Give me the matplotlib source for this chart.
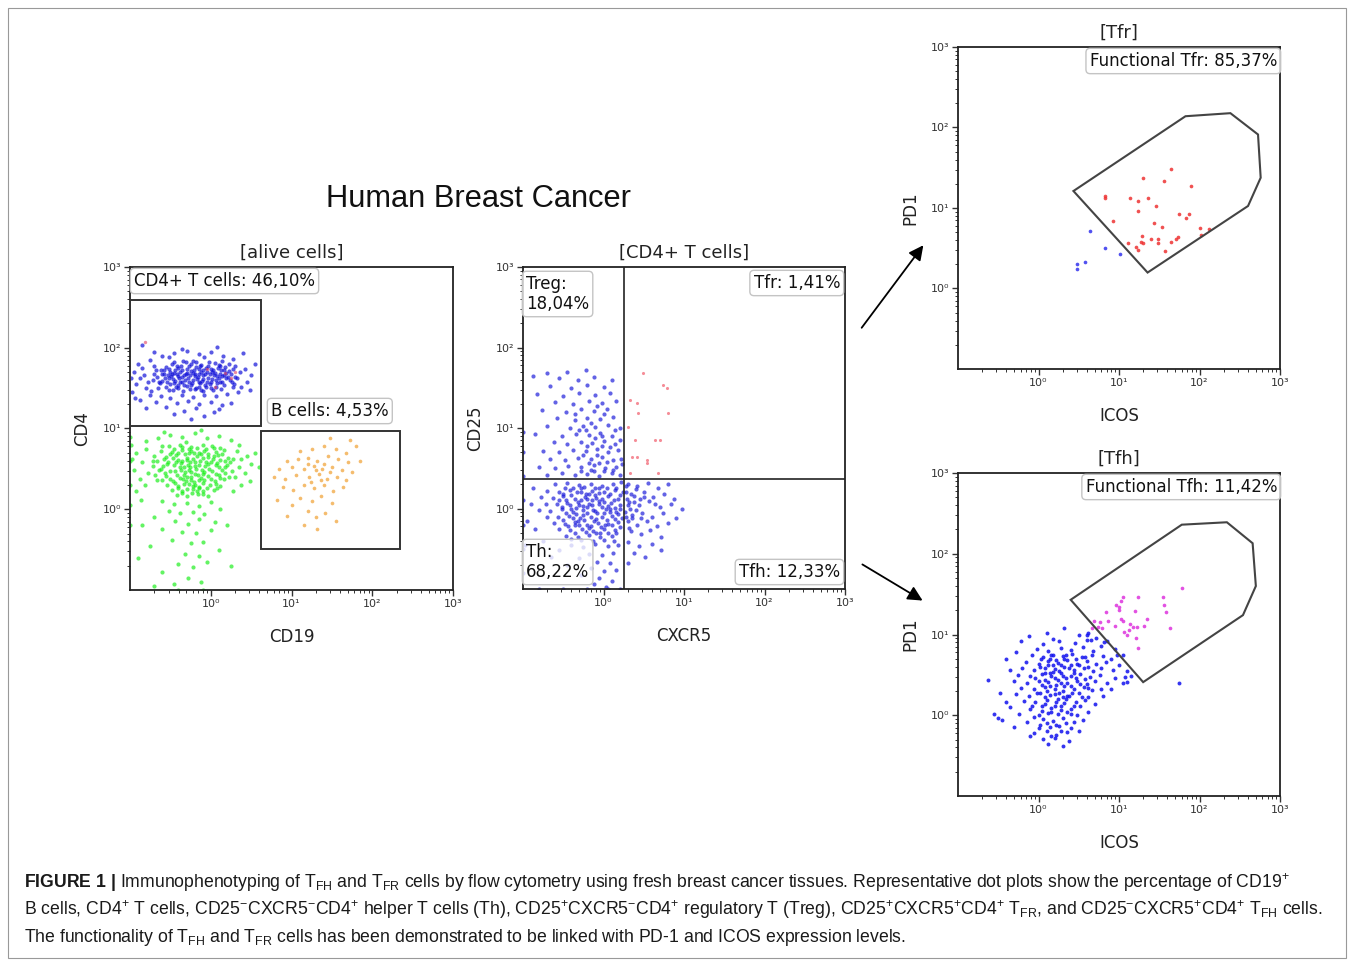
import numpy as np
import matplotlib
matplotlib.use("Agg")
import matplotlib.pyplot as plt
from matplotlib.patches import Rectangle, Polygon, FancyArrowPatch
from matplotlib.ticker import LogLocator, NullFormatter, FixedLocator, FixedFormatter

# ---- data (log10 values) ----
alive_cd4_log = """
-0.48 1.80 -0.31 1.82 -0.12 1.79 0.05 1.81 -0.22 1.84 0.12 1.78
-0.55 1.76 -0.40 1.75 -0.27 1.77 -0.15 1.74 -0.03 1.77 0.09 1.75 0.18 1.76
-0.62 1.72 -0.50 1.70 -0.36 1.73 -0.24 1.71 -0.10 1.72 0.01 1.70 0.13 1.73 0.22 1.71
-0.70 1.68 -0.58 1.67 -0.45 1.69 -0.33 1.66 -0.19 1.68 -0.07 1.67 0.05 1.69 0.16 1.66 0.25 1.68
-0.66 1.64 -0.52 1.63 -0.41 1.65 -0.28 1.62 -0.16 1.64 -0.04 1.63 0.08 1.65 0.19 1.62
-0.72 1.60 -0.60 1.59 -0.47 1.61 -0.35 1.58 -0.22 1.60 -0.11 1.59 0.02 1.61 0.14 1.58 0.24 1.60
-0.63 1.56 -0.50 1.55 -0.38 1.57 -0.25 1.54 -0.13 1.56 -0.01 1.55 0.11 1.57
-0.56 1.52 -0.43 1.51 -0.30 1.53 -0.18 1.50 -0.06 1.52 0.07 1.51
-0.47 1.48 -0.34 1.47 -0.20 1.49 -0.09 1.46 0.03 1.48
-0.42 1.78 -0.18 1.76 0.00 1.74 -0.30 1.69 -0.12 1.70 -0.39 1.62 -0.09 1.61
-0.27 1.58 -0.05 1.57 -0.53 1.66 -0.20 1.65 0.10 1.63 -0.33 1.54 -0.15 1.52
-0.44 1.59 0.19 1.69 -0.58 1.72 -0.24 1.80
-0.95 1.70 -0.88 1.62 -0.92 1.55 -0.85 1.75 -0.80 1.50 -0.97 1.45 -0.90 1.80
-0.83 1.66 -0.78 1.58 -0.99 1.63
-0.75 1.85 -0.60 1.90 -0.45 1.93 -0.30 1.96 -0.15 1.92 0.00 1.95 0.15 1.90
0.28 1.86 -0.52 1.88 -0.08 1.88 -0.36 1.99 0.08 2.01 -0.70 1.95 -0.85 2.03 0.40 1.94
0.30 1.78 0.36 1.70 0.33 1.62 0.42 1.74 0.45 1.58 0.38 1.52 0.50 1.66 0.55 1.80
0.48 1.48 0.29 1.55 0.34 1.45
-0.75 1.42 -0.62 1.40 -0.50 1.38 -0.36 1.41 -0.22 1.39 -0.08 1.42 0.06 1.40 0.20 1.43
-0.68 1.33 -0.42 1.31 -0.28 1.34 -0.14 1.30 0.00 1.33 0.14 1.29 -0.55 1.27 -0.33 1.22
-0.18 1.25 0.04 1.20 -0.08 1.15 -0.46 1.18 0.25 1.32 -0.88 1.35 -0.80 1.25 0.10 1.24
-0.25 1.12 -0.65 1.50 -0.70 1.78 0.28 1.52 -0.74 1.47 -0.94 1.38
-0.52 1.74 -0.44 1.72 -0.37 1.78 -0.29 1.74 -0.21 1.73 -0.13 1.78 -0.06 1.75 0.03 1.72
0.10 1.79 0.17 1.72 -0.57 1.62 -0.49 1.65 -0.42 1.67 -0.35 1.64 -0.26 1.66 -0.17 1.61
-0.09 1.66 -0.01 1.67 0.07 1.60 0.14 1.65 0.21 1.64 -0.54 1.58 -0.46 1.56 -0.40 1.54
-0.32 1.60 -0.23 1.56 -0.15 1.58 -0.07 1.54 0.00 1.58 0.08 1.56 0.16 1.54
-0.48 1.68 -0.38 1.70 -0.31 1.67 -0.22 1.69 -0.14 1.67 -0.05 1.70 0.04 1.66 0.12 1.68
-0.60 1.68 -0.64 1.58 -0.68 1.72 -0.45 1.82 -0.34 1.84 -0.18 1.82 -0.02 1.82 0.14 1.83
0.22 1.80 -0.40 1.50 -0.26 1.49 -0.12 1.48 0.00 1.50 0.13 1.49 -0.52 1.48 0.26 1.57
0.30 1.64 0.27 1.74
"""

alive_red_log = "-0.81 2.07 0.18 1.69 0.25 1.62 0.30 1.70 -0.05 1.74 0.05 1.52"

alive_green_log = """
-0.52 0.78 -0.38 0.80 -0.24 0.77 -0.10 0.79 0.04 0.76 -0.31 0.83
-0.62 0.72 -0.48 0.71 -0.35 0.73 -0.21 0.70 -0.08 0.72 0.06 0.71 0.17 0.73
-0.70 0.66 -0.56 0.65 -0.43 0.67 -0.30 0.64 -0.17 0.66 -0.04 0.65 0.09 0.67 0.21 0.64
-0.66 0.60 -0.53 0.59 -0.40 0.61 -0.26 0.58 -0.13 0.60 0.00 0.59 0.12 0.61 0.24 0.58
-0.72 0.54 -0.59 0.53 -0.46 0.55 -0.33 0.52 -0.20 0.54 -0.07 0.53 0.06 0.55 0.18 0.52
-0.64 0.48 -0.50 0.47 -0.37 0.49 -0.24 0.46 -0.11 0.48 0.02 0.47 0.14 0.49 0.26 0.47
-0.69 0.42 -0.55 0.41 -0.42 0.43 -0.29 0.40 -0.16 0.42 -0.03 0.41 0.10 0.43
-0.60 0.36 -0.47 0.35 -0.34 0.37 -0.21 0.34 -0.08 0.36 0.05 0.35 0.17 0.37
-0.54 0.30 -0.40 0.29 -0.27 0.31 -0.14 0.28 -0.01 0.30 0.11 0.29
-0.48 0.24 -0.35 0.23 -0.22 0.25 -0.09 0.22 0.04 0.24
-0.42 0.18 -0.29 0.17 -0.16 0.19 -0.03 0.16
-0.28 0.55 -0.18 0.50 -0.10 0.44 -0.25 0.40 -0.14 0.36 -0.22 0.62 -0.06 0.58
-0.32 0.46 -0.19 0.30 -0.12 0.68 -0.27 0.70 -0.02 0.50 -0.37 0.57 -0.15 0.26
-0.80 0.85 -0.65 0.88 -0.50 0.92 -0.35 0.90 -0.20 0.94 -0.05 0.88 0.10 0.91
0.25 0.86 -0.58 0.96 -0.12 0.98 0.35 0.80
0.32 0.72 0.38 0.62 0.35 0.52 0.45 0.66 0.50 0.56 0.42 0.45 0.55 0.70 0.30 0.40
0.48 0.35 0.60 0.52 0.38 0.30 0.28 0.22
-0.92 0.70 -0.85 0.58 -0.95 0.48 -0.88 0.38 -0.80 0.75 -0.97 0.62 -0.82 0.30
-0.93 0.22 -0.78 0.45 -0.99 0.80 -0.86 0.12
-0.60 0.10 -0.45 0.06 -0.30 0.08 -0.15 0.04 0.00 0.09 -0.52 -0.02 -0.38 -0.05
-0.22 -0.03 -0.08 -0.06 0.12 0.00 -0.70 -0.10 -0.44 -0.14 -0.28 -0.18 -0.14 -0.12
0.05 -0.16 -0.60 -0.25 -0.35 -0.28 -0.18 -0.30 0.00 -0.26 -0.48 -0.38 -0.25 -0.42
-0.10 -0.40 -0.75 -0.45 -0.32 -0.55 -0.15 -0.58 -0.40 -0.68 -0.22 -0.72 -0.05 -0.65
-0.60 -0.78 -0.28 -0.85 -0.12 -0.90 -0.45 -0.92 0.10 -0.50 0.20 -0.20 -0.85 -0.20
-0.90 -0.60 0.25 -0.70 -0.70 -0.95
-1.00 0.30 -1.00 0.60 -1.00 -0.20 -1.00 0.90 -1.00 0.05 -0.40 -1.00 -0.10 -1.00
-0.45 0.75 -0.35 0.77 -0.27 0.75 -0.17 0.76 -0.06 0.74 0.02 0.78 0.12 0.76
-0.50 0.68 -0.40 0.70 -0.32 0.68 -0.24 0.72 -0.15 0.70 -0.04 0.69 0.04 0.66 0.14 0.69
-0.58 0.62 -0.47 0.63 -0.36 0.60 -0.29 0.61 -0.20 0.58 -0.10 0.63 0.03 0.62 0.08 0.57
0.18 0.60 -0.54 0.56 -0.43 0.58 -0.38 0.52 -0.26 0.52 -0.14 0.55 -0.03 0.56 0.10 0.52
0.20 0.55 -0.57 0.45 -0.44 0.47 -0.33 0.43 -0.27 0.49 -0.20 0.44 -0.08 0.46 0.06 0.44
0.18 0.45 -0.50 0.38 -0.38 0.39 -0.31 0.35 -0.24 0.36 -0.12 0.39 0.00 0.37 0.12 0.39
-0.44 0.32 -0.33 0.31 -0.22 0.29 -0.10 0.32 0.06 0.31 -0.40 0.26 -0.30 0.25 -0.17 0.23
-0.05 0.26 0.08 0.26 -0.36 0.20 -0.23 0.20 -0.10 0.19 -0.62 0.50 -0.66 0.36 0.22 0.40
0.28 0.62 -0.72 0.60 -0.60 0.78
"""

alive_bcell_log = """
1.10 0.72 1.25 0.75 1.40 0.78 1.55 0.74 1.68 0.70 1.80 0.78 1.72 0.86 1.48 0.88
0.95 0.60 1.08 0.62 1.20 0.64 1.32 0.60 1.45 0.66 1.58 0.62 1.70 0.58 1.85 0.60
0.85 0.50 1.00 0.52 1.15 0.50 1.28 0.54 1.38 0.50 1.50 0.52 1.62 0.48 1.75 0.46
0.78 0.40 0.92 0.38 1.05 0.42 1.22 0.40 1.34 0.44 1.44 0.38 1.56 0.40 1.68 0.36
0.90 0.28 1.02 0.24 1.15 0.30 1.28 0.26 1.40 0.30 1.52 0.22 1.64 0.28
0.82 0.12 1.10 0.14 1.25 0.10 1.36 0.16 1.50 0.08 1.00 0.05
1.20 -0.02 1.30 -0.10 1.42 -0.05 1.15 -0.20 1.32 -0.25 1.55 -0.15 0.95 -0.08
1.30 0.48 1.40 0.56 1.24 0.34 1.36 0.36 1.48 0.46 1.20 0.56
"""

cd4_blue_log = """
-0.60 0.30 -0.45 0.32 -0.30 0.29 -0.16 0.31 -0.02 0.28 0.12 0.30 0.22 0.33
-0.70 0.22 -0.55 0.21 -0.42 0.23 -0.28 0.20 -0.14 0.22 0.00 0.21 0.14 0.23 0.24 0.20
-0.78 0.14 -0.63 0.13 -0.50 0.15 -0.36 0.12 -0.23 0.14 -0.09 0.13 0.05 0.15 0.18 0.12
-0.72 0.06 -0.58 0.05 -0.45 0.07 -0.31 0.04 -0.18 0.06 -0.05 0.05 0.09 0.07 0.21 0.04
-0.80 -0.02 -0.66 -0.03 -0.52 -0.01 -0.38 -0.04 -0.25 -0.02 -0.11 -0.03 0.03 -0.01 0.16 -0.04
-0.70 -0.10 -0.56 -0.11 -0.43 -0.09 -0.29 -0.12 -0.16 -0.10 -0.02 -0.11 0.11 -0.09 0.23 -0.12
-0.62 -0.18 -0.48 -0.19 -0.35 -0.17 -0.21 -0.20 -0.07 -0.18 0.06 -0.19 0.18 -0.17
-0.55 -0.26 -0.41 -0.27 -0.27 -0.25 -0.13 -0.28 0.01 -0.26 0.14 -0.27
-0.46 -0.34 -0.32 -0.35 -0.18 -0.33 -0.04 -0.36 0.10 -0.34
-0.20 0.02 -0.08 -0.06 -0.14 0.10 -0.26 -0.08 -0.02 0.12 -0.12 -0.15 -0.32 0.08
0.02 -0.20 -0.22 0.18 -0.06 0.25 -0.18 -0.24 -0.40 0.00 0.08 0.00 -0.10 0.17
-0.28 0.26 -0.36 -0.20 -0.04 -0.30
-0.40 -0.45 -0.25 -0.48 -0.10 -0.44 0.05 -0.47 0.18 -0.45 -0.55 -0.52 -0.18 -0.56
-0.02 -0.58 0.12 -0.55 -0.30 -0.62 -0.08 -0.66 0.08 -0.68 -0.45 -0.70 -0.15 -0.74
0.00 -0.78 0.15 -0.76 -0.28 -0.82 -0.05 -0.86 0.10 -0.90 -0.12 -0.94 0.03 -0.97
-0.65 -0.60 -0.75 -0.40 -0.85 -0.25 -0.90 0.05 -0.95 -0.15 -0.88 0.25 -0.98 -0.45
0.30 0.30 0.42 0.28 0.55 0.32 0.68 0.26 0.80 0.30
0.28 0.20 0.38 0.16 0.50 0.20 0.62 0.14 0.75 0.18 0.88 0.12
0.32 0.08 0.44 0.04 0.56 0.09 0.70 0.02 0.84 0.06 0.98 0.00
0.27 -0.04 0.36 -0.08 0.48 -0.05 0.60 -0.10 0.74 -0.06 0.90 -0.12
0.30 -0.16 0.42 -0.20 0.54 -0.15 0.66 -0.22 0.80 -0.18
0.34 -0.28 0.46 -0.32 0.58 -0.27 0.72 -0.35
0.30 -0.42 0.44 -0.46 0.60 -0.44 0.38 -0.55 0.52 -0.60 0.30 -0.68 0.72 -0.52
0.29 0.12 0.33 -0.01 0.40 0.24 0.35 -0.12 0.45 0.12
-0.70 0.42 -0.52 0.44 -0.36 0.41 -0.20 0.43 -0.05 0.40 0.10 0.44 0.21 0.42
-0.80 0.52 -0.60 0.50 -0.44 0.53 -0.28 0.51 -0.12 0.54 0.02 0.50 0.16 0.52
-0.66 0.62 -0.48 0.60 -0.32 0.63 -0.16 0.61 -0.02 0.64 0.12 0.60 0.22 0.62
-0.75 0.72 -0.55 0.70 -0.38 0.73 -0.22 0.71 -0.08 0.74 0.06 0.70 0.18 0.73
-0.62 0.82 -0.45 0.80 -0.28 0.83 -0.14 0.81 0.00 0.84 0.14 0.80
-0.85 0.92 -0.52 0.90 -0.34 0.93 -0.18 0.91 -0.04 0.94 0.10 0.90
-0.70 1.02 -0.42 1.00 -0.26 1.03 -0.10 1.01 0.05 1.04 0.20 1.00
-0.58 1.12 -0.36 1.10 -0.20 1.13 -0.04 1.11 0.12 1.14
-0.76 1.22 -0.46 1.20 -0.28 1.23 -0.12 1.21 0.04 1.24
-0.60 1.32 -0.38 1.30 -0.18 1.33 -0.02 1.31 0.16 1.34
-0.82 1.42 -0.50 1.40 -0.30 1.43 -0.10 1.41 0.08 1.44
-0.66 1.52 -0.40 1.50 -0.20 1.53 0.00 1.51
-0.88 1.64 -0.55 1.62 -0.32 1.60 -0.12 1.63 0.10 1.60
-0.45 1.70 -0.22 1.72 -0.70 1.68
-0.15 0.48 -0.05 0.57 -0.25 0.66 -0.10 0.88 -0.30 0.97 -0.02 0.78 0.20 0.85
0.23 0.55 -0.35 1.17 -0.08 1.27
-1.00 -0.80 -1.00 -0.50 -1.00 -0.20 -1.00 0.10 -1.00 0.40 -1.00 0.70 -1.00 0.95
-0.80 -1.00 -0.50 -1.00 -0.20 -1.00 0.05 -1.00 0.20 -1.00
-0.48 0.25 -0.38 0.26 -0.24 0.27 -0.10 0.26 0.04 0.25 0.16 0.26
-0.50 0.18 -0.40 0.17 -0.33 0.20 -0.18 0.18 -0.06 0.19 0.08 0.18 0.20 0.17
-0.55 0.10 -0.46 0.11 -0.28 0.10 -0.20 0.12 -0.06 0.09 0.01 0.08 0.13 0.10
-0.52 0.02 -0.42 0.04 -0.34 0.01 -0.26 0.03 -0.14 0.04 -0.02 0.02 0.06 0.03 0.14 0.01
0.20 -0.01 -0.47 -0.05 -0.34 -0.07 -0.20 -0.05 -0.13 -0.02 0.00 -0.06 0.08 -0.04
0.18 -0.07 -0.50 -0.14 -0.38 -0.12 -0.32 -0.15 -0.24 -0.14 -0.09 -0.13 0.04 -0.14
0.14 -0.13 -0.44 -0.22 -0.30 -0.21 -0.16 -0.22 -0.03 -0.23 0.10 -0.21 0.20 -0.23
-0.36 -0.30 -0.22 -0.29 -0.09 -0.31 0.05 -0.30 0.16 -0.31
-0.28 -0.39 -0.13 -0.40 0.00 -0.39 0.13 -0.40 -0.40 -0.38
-0.12 0.46 0.00 0.47 0.12 0.48 -0.28 0.46 -0.08 0.66 0.04 0.58 -0.18 0.56 0.08 0.76
-0.20 0.78 -0.02 0.90 0.14 0.97 -0.15 1.06 0.00 1.18 -0.22 0.98
0.28 0.28 0.34 0.18 0.30 0.04 0.40 -0.02 0.28 -0.10 0.38 0.08 0.50 0.14 0.46 -0.12
0.32 -0.24 0.64 0.06
"""

cd4_red_log = """
0.49 1.68 0.74 1.53 0.79 1.50 0.80 1.19 0.43 1.19 0.33 1.35 0.64 0.85
0.42 0.64 0.54 0.60 0.54 0.57 0.39 0.85 0.33 0.44 0.30 1.01 0.70 0.85
0.42 1.31 0.68 0.44 0.35 0.64
"""

tfr_red_log = """
1.65 1.49 1.30 1.37 1.56 1.33 1.90 1.27 0.83 1.15 0.83 1.12 1.14 1.12
1.24 1.09 1.36 1.12 1.46 1.02 1.24 0.96 0.92 0.84 1.43 0.81 1.53 0.77
1.75 0.93 1.87 0.93 1.83 0.87 2.00 0.75 2.12 0.74 2.02 0.67 1.29 0.65
1.40 0.62 1.48 0.62 1.48 0.56 1.27 0.58 1.30 0.56 1.11 0.56 1.21 0.52
1.24 0.48 1.64 0.58 1.71 0.62 1.73 0.64 1.57 0.47
"""
tfr_blue_log = "0.64 0.71 0.83 0.50 1.01 0.43 0.58 0.33 0.48 0.30 0.48 0.24"

tfh_magenta_log = """
1.78 1.58 1.55 1.47 1.24 1.46 1.05 1.47 1.02 1.41 1.56 1.37 0.96 1.37
1.00 1.34 0.84 1.28 1.00 1.30 1.20 1.29 1.58 1.28 1.35 1.19 0.86 1.17
1.02 1.19 0.76 1.16 0.69 1.17 1.05 1.17 1.14 1.13 1.31 1.11 0.95 1.11
0.74 1.09 1.13 1.05 1.17 1.09 1.22 1.09 1.63 1.08 1.06 1.03 1.10 1.00
1.21 0.96 1.24 0.83 0.67 1.08 0.79 1.08
"""

tfh_blue_log = """
-0.63 0.44 1.74 0.40 0.78 0.33
0.05 0.88 0.25 0.92 0.45 0.89 0.60 0.93 0.18 0.95
-0.02 0.82 0.12 0.80 0.28 0.83 0.40 0.81 0.55 0.84 0.68 0.80 0.78 0.86
-0.08 0.74 0.06 0.72 0.18 0.75 0.30 0.73 0.42 0.76 0.54 0.72 0.66 0.75 0.80 0.73 0.90 0.70
-0.15 0.66 0.00 0.64 0.12 0.67 0.24 0.65 0.36 0.68 0.48 0.64 0.60 0.67 0.72 0.63 0.84 0.66
-0.20 0.58 -0.06 0.56 0.08 0.59 0.20 0.57 0.32 0.60 0.44 0.56 0.56 0.59 0.68 0.55 0.78 0.58 0.92 0.56
-0.25 0.50 -0.10 0.48 0.04 0.51 0.16 0.49 0.28 0.52 0.40 0.48 0.52 0.51 0.64 0.47 0.76 0.50
-0.30 0.42 -0.14 0.40 0.00 0.43 0.12 0.41 0.24 0.44 0.36 0.40 0.48 0.43 0.60 0.39 0.70 0.42
-0.22 0.34 -0.06 0.32 0.08 0.35 0.20 0.33 0.32 0.36 0.44 0.32 0.56 0.35 0.66 0.31
-0.28 0.26 -0.12 0.24 0.02 0.27 0.14 0.25 0.26 0.28 0.38 0.24 0.50 0.27 0.62 0.23
-0.18 0.18 -0.04 0.16 0.10 0.19 0.22 0.17 0.34 0.20 0.46 0.16 0.58 0.19
-0.36 0.10 -0.10 0.08 0.04 0.11 0.16 0.09 0.28 0.12 0.40 0.08 0.52 0.11
-0.24 0.02 0.00 0.00 0.12 0.03 0.24 0.01 0.36 0.04 0.48 0.00
-0.45 -0.06 -0.14 -0.08 0.06 -0.05 0.18 -0.07 0.30 -0.04 0.44 -0.08
-0.30 -0.14 0.02 -0.12 0.14 -0.15 0.26 -0.13 0.40 -0.16
-0.05 -0.22 0.10 -0.20 0.22 -0.24 0.36 -0.21
0.05 -0.30 0.20 -0.28 0.38 -0.32 -0.10 -0.26
-0.55 0.02 -0.50 -0.04 -0.40 0.16 -0.48 0.28 -0.36 0.56 -0.40 0.70 -0.28 0.78
-0.22 0.92 -0.12 0.98 0.10 1.02 0.32 1.08 0.50 1.00 0.62 1.02 0.72 0.96
0.85 0.92 0.95 0.82 1.05 0.75 1.00 0.62 1.10 0.55 0.95 0.46 0.85 0.40
0.90 0.32 1.05 0.40 1.15 0.48 0.80 0.24 0.70 0.14 0.62 0.04 0.55 -0.06
0.50 -0.20 0.30 -0.38 0.12 -0.35
0.18 0.62 0.26 0.55 0.34 0.46 0.22 0.38 0.30 0.30 0.14 0.52 0.40 0.62
0.10 0.30 0.24 0.20 0.32 0.70 0.44 0.52 0.20 0.46 0.36 0.24 0.16 0.74 0.08 0.44
0.81 0.91 0.98 0.74 0.60 0.99 0.65 0.93 1.08 0.47 1.10 0.41
0.03 0.70 0.14 0.70 0.22 0.68 0.34 0.75 0.46 0.70 0.58 0.72
0.02 0.60 0.12 0.62 0.28 0.62 0.38 0.58 0.50 0.62 0.62 0.60
-0.04 0.46 0.08 0.52 0.18 0.53 0.30 0.48 0.46 0.46 0.58 0.45
0.04 0.38 0.14 0.36 0.28 0.40 0.40 0.36 0.52 0.39 0.62 0.34
-0.02 0.28 0.08 0.22 0.20 0.26 0.30 0.22 0.42 0.28 0.54 0.22
-0.08 0.12 0.08 0.14 0.20 0.12 0.32 0.15 0.44 0.12
0.04 0.05 0.16 0.04 0.28 0.06 0.40 0.02 -0.06 -0.02
0.10 -0.10 0.22 -0.12 0.34 -0.10 0.00 -0.16 0.16 -0.26 0.28 -0.20
"""

# gates
cd4_gate_log = [(-1.0, 1.03), (0.62, 2.59)]      # (x0, y0), (x1, y1)
bcell_gate_log = [(0.62, -0.49), (2.34, 0.97)]
quad_x, quad_y = 1.8, 2.3
tfr_gate_log = [(0.434, 1.211), (1.826, 2.14), (2.384, 2.178), (2.727, 1.913),
                (2.76, 1.376), (2.603, 1.025), (1.355, 0.198)]
tfh_gate_log = [(0.40, 1.43), (1.78, 2.36), (2.34, 2.39), (2.66, 2.13),
                (2.70, 1.60), (2.54, 1.24), (1.30, 0.41)]

decade_ticks = [1, 10, 100, 1000]
decade_labels = ["10⁰", "10¹", "10²", "10³"]

W, H = 1354, 963
plt.rcParams["font.family"] = ["DejaVu Sans"]
plt.rcParams["mathtext.fontset"] = "custom"
plt.rcParams["mathtext.rm"] = "Liberation Sans"
plt.rcParams["mathtext.it"] = "Liberation Sans:italic"
plt.rcParams["mathtext.bf"] = "Liberation Sans:bold"


def pts(s):
    a = np.array(s.split(), dtype=float).reshape(-1, 2)
    return 10 ** a[:, 0], 10 ** a[:, 1]


def fx(x):
    return x / W


def fy(y):
    return 1 - y / H


fig = plt.figure(figsize=(W / 100, H / 100), dpi=100)


def make_ax(l, t, r, b, xl, yl, title):
    ax = fig.add_axes([l / W, 1 - b / H, (r - l) / W, (b - t) / H])
    ax.set_xscale("log")
    ax.set_yscale("log")
    ax.set_xlim(0.1, 1000)
    ax.set_ylim(0.1, 1000)
    for axis in (ax.xaxis, ax.yaxis):
        axis.set_major_locator(FixedLocator(decade_ticks))
        axis.set_major_formatter(FixedFormatter(decade_labels))
        axis.set_minor_locator(LogLocator(base=10, subs=np.arange(2, 10), numticks=20))
        axis.set_minor_formatter(NullFormatter())
    ax.tick_params(which="major", direction="out", length=4.5, width=1, labelsize=8,
                   colors="#333333", pad=2)
    ax.tick_params(which="minor", direction="out", length=2.2, width=0.7, colors="#333333")
    for sp in ax.spines.values():
        sp.set_color("#222222")
        sp.set_linewidth(1.3)
    ax.set_xlabel(xl, fontsize=12, labelpad=14, color="#222222")
    ax.set_ylabel(yl, fontsize=12, labelpad=8, color="#222222")
    ax.set_title(title, fontsize=13, pad=7, color="#222222")
    return ax


def gate_label(x, y, s, ha="left", va="center"):
    fig.text(fx(x), fy(y), s, ha=ha, va=va, fontsize=12, color="#111111", linespacing=1.15,
             zorder=10,
             bbox=dict(boxstyle="round,pad=0.22,rounding_size=0.25", fc=(1, 1, 1, 0.78),
                       ec="#c4c4c4", lw=1.0))


# ---- panel 1: alive cells ----
ax1 = make_ax(130, 267, 453, 590, "CD19", "CD4", "[alive cells]")
x, y = pts(alive_green_log)
ax1.scatter(x, y, s=9, c="#10ee10", alpha=0.65, linewidths=0)
x, y = pts(alive_cd4_log)
ax1.scatter(x, y, s=9, c="#0c0cd8", alpha=0.68, linewidths=0)
x, y = pts(alive_red_log)
ax1.scatter(x, y, s=6, c="#e04060", alpha=0.6, linewidths=0)
x, y = pts(alive_bcell_log)
ax1.scatter(x, y, s=7, c="#f0a030", alpha=0.7, linewidths=0)
for (gx0, gy0), (gx1, gy1) in (cd4_gate_log, bcell_gate_log):
    ax1.add_patch(Rectangle((10 ** gx0, 10 ** gy0), 10 ** gx1 - 10 ** gx0, 10 ** gy1 - 10 ** gy0,
                            fill=False, ec="#333333", lw=1.4, zorder=5))

# ---- panel 2: CD4+ T cells ----
ax2 = make_ax(523, 267, 845, 589, "CXCR5", "CD25", "[CD4+ T cells]")
x, y = pts(cd4_blue_log)
ax2.scatter(x, y, s=9, c="#1010d8", alpha=0.65, linewidths=0)
x, y = pts(cd4_red_log)
ax2.scatter(x, y, s=5, c="#f05060", alpha=0.65, linewidths=0)
ax2.axvline(quad_x, color="#222222", lw=1.2, zorder=5)
ax2.axhline(quad_y, color="#222222", lw=1.2, zorder=5)

# ---- panel 3: Tfr ----
ax3 = make_ax(958, 47, 1280, 369, "ICOS", "PD1", "[Tfr]")
x, y = pts(tfr_red_log)
ax3.scatter(x, y, s=7, c="#ee3333", alpha=0.85, linewidths=0)
x, y = pts(tfr_blue_log)
ax3.scatter(x, y, s=7, c="#3333ee", alpha=0.85, linewidths=0)
ax3.add_patch(Polygon([(10 ** a, 10 ** b) for a, b in tfr_gate_log], closed=True,
                      fill=False, ec="#444444", lw=1.5))

# ---- panel 4: Tfh ----
ax4 = make_ax(958, 473, 1280, 796, "ICOS", "PD1", "[Tfh]")
x, y = pts(tfh_blue_log)
ax4.scatter(x, y, s=8, c="#1212ee", alpha=0.85, linewidths=0)
x, y = pts(tfh_magenta_log)
ax4.scatter(x, y, s=7, c="#dd33dd", alpha=0.85, linewidths=0)
ax4.add_patch(Polygon([(10 ** a, 10 ** b) for a, b in tfh_gate_log], closed=True,
                      fill=False, ec="#444444", lw=1.5))

# ---- gate labels ----
gate_label(134, 281, "CD4+ T cells: 46,10%")
gate_label(271, 411, "B cells: 4,53%")
gate_label(526, 294, "Treg:\n18,04%")
gate_label(840, 283, "Tfr: 1,41%", ha="right")
gate_label(526, 562, "Th:\n68,22%")
gate_label(840, 572, "Tfh: 12,33%", ha="right")
gate_label(1277, 61, "Functional Tfr: 85,37%", ha="right")
gate_label(1277, 487, "Functional Tfh: 11,42%", ha="right")

# ---- title, arrows, frame ----
fig.text(fx(478), fy(199), "Human Breast Cancer", ha="center", va="center",
         fontsize=22.2, family="Liberation Sans", color="#111111")
for (x0, y0), (x1, y1) in (((860, 330), (925, 243)), ((860, 563), (925, 602))):
    fig.add_artist(FancyArrowPatch((fx(x0), fy(y0)), (fx(x1), fy(y1)),
                                   transform=fig.transFigure, arrowstyle="-|>",
                                   mutation_scale=22, lw=1.3, color="black"))
fig.add_artist(Rectangle((fx(8), fy(958)), 1338 / W, 950 / H, transform=fig.transFigure,
                         fill=False, ec="#999999", lw=0.8))

# ---- caption ----
caption = [
    r"$\bf{FIGURE\ 1\ |}$ Immunophenotyping of T$_{\rm FH}$ and T$_{\rm FR}$ cells by flow "
    r"cytometry using fresh breast cancer tissues. Representative dot plots show the percentage of CD19$^{+}$",
    r"B cells, CD4$^{+}$ T cells, CD25$^{-}$CXCR5$^{-}$CD4$^{+}$ helper T cells (Th), "
    r"CD25$^{+}$CXCR5$^{-}$CD4$^{+}$ regulatory T (Treg), CD25$^{+}$CXCR5$^{+}$CD4$^{+}$ T$_{\rm FR}$, "
    r"and CD25$^{-}$CXCR5$^{+}$CD4$^{+}$ T$_{\rm FH}$ cells.",
    r"The functionality of T$_{\rm FH}$ and T$_{\rm FR}$ cells has been demonstrated to be linked "
    r"with PD-1 and ICOS expression levels.",
]
for i, line in enumerate(caption):
    fig.text(fx(24), fy(883 + 27 * i), line, ha="left", va="center", fontsize=12.7,
             family="Liberation Sans", color="#1a1a1a")

fig.savefig("out.png", dpi=100)
